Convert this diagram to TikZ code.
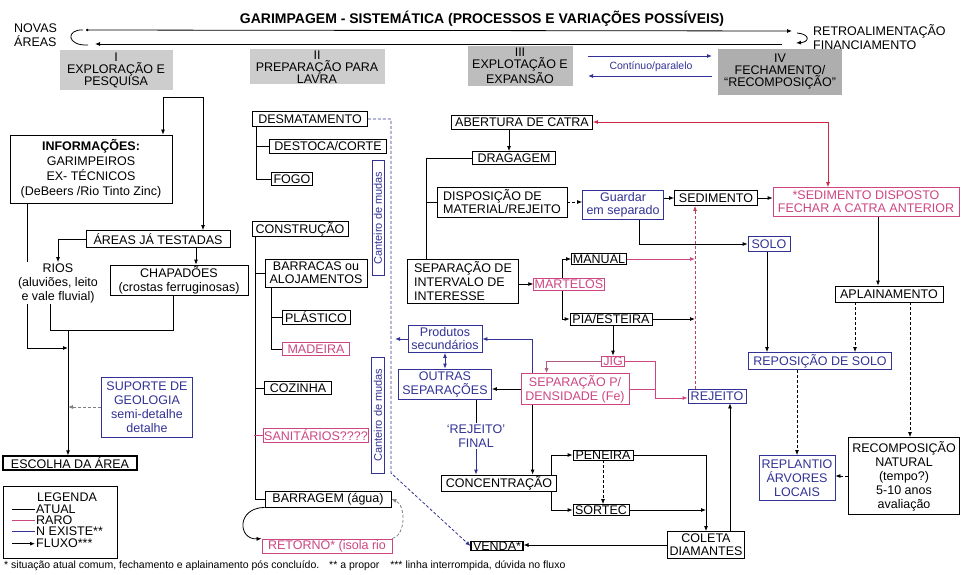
\documentclass[tikz,border=0pt]{standalone}
\usepackage{fontspec}
\setmainfont{Liberation Sans}
\usepackage{tikz}
\usetikzlibrary{arrows.meta, positioning, calc, backgrounds}
\definecolor{azul}{RGB}{50,50,150}
\definecolor{rosa}{RGB}{205,70,130}
\definecolor{vermelho}{RGB}{210,40,70}
\definecolor{cinzafase}{RGB}{205,205,205}
\tikzstyle{box} = [draw=black, fill=white, line width=0.8pt, inner xsep=1pt, inner ysep=0.5pt, align=center, font=\fontsize{12.5}{14}\selectfont]
\tikzstyle{raro} = [box, draw=rosa, text=rosa]
\tikzstyle{nexiste} = [box, draw=azul, text=azul]
\tikzstyle{fase} = [fill=cinzafase, inner sep=1pt, align=center, font=\fontsize{12.5}{12}\selectfont]
\tikzstyle{texto} = [inner sep=1pt, align=center, font=\fontsize{12.5}{14}\selectfont]
\tikzstyle{line} = [line width=0.8pt]
\tikzstyle{arrow} = [line, ->]
\tikzstyle{tracejado} = [line, dash pattern=on 3pt off 2pt]

\begin{document}
\begin{tikzpicture}[x=1pt, y=-1pt, >={Latex[length=5pt,width=4pt]}]
\useasboundingbox (0,0) rectangle (961,575);

\node[font=\bfseries\fontsize{14}{15}\selectfont] (titulo) at (482,19) {GARIMPAGEM - SISTEMÁTICA (PROCESSOS E VARIAÇÕES POSSÍVEIS)};
\node[texto, align=left, anchor=west] (novas) at (13,35) {NOVAS\\ÁREAS};
\node[texto, align=left, anchor=west] (retro) at (812,37) {RETROALIMENTAÇÃO\\FINANCIAMENTO};

\node[fase, minimum width=113, minimum height=40] (fase-1) at (116,70) {I\\EXPLORAÇÃO E\\PESQUISA};
\node[fase, minimum width=135, minimum height=35] (fase-2) at (317,67) {II\\PREPARAÇÃO PARA\\LAVRA};
\node[fase, minimum width=105, minimum height=40, fill=cinzafase!92!black] (fase-3) at (520,66) {III\\EXPLOTAÇÃO E\\EXPANSÃO};
\node[fase, minimum width=124, minimum height=46, fill=cinzafase!85!black] (fase-4) at (780,72) {IV\\FECHAMENTO/\\``RECOMPOSIÇÃO''};
\node[texto, text=azul, font=\fontsize{10.5}{12}\selectfont] (continuo) at (651,67) {Contínuo/paralelo};

\node[box, minimum width=162, minimum height=68, font=\fontsize{12.5}{15}\selectfont] (info) at (91,169) {\textbf{INFORMAÇÕES:}\\GARIMPEIROS\\EX- TÉCNICOS\\(DeBeers /Rio Tinto Zinc)};
\node[box, minimum width=144, minimum height=17] (areas) at (158,239) {ÁREAS JÁ TESTADAS};
\node[texto, fill=white] (rios) at (58,283) {RIOS\\(aluviões, leito\\e vale fluvial)};
\node[box, minimum width=138, minimum height=30] (chapadoes) at (179,280) {CHAPADÕES\\(crostas ferruginosas)};
\node[nexiste, minimum width=91, minimum height=60] (suporte) at (147,407) {SUPORTE DE\\GEOLOGIA\\semi-detalhe\\detalhe};
\node[box, minimum width=134, minimum height=14, line width=1.3pt] (escolha) at (70,463) {ESCOLHA DA ÁREA};
\node[box, minimum width=114, minimum height=72] (legenda) at (60,522) {};
\node[texto] (leg-titulo) at (67,497) {LEGENDA};
\node[texto, anchor=west] (leg-atual) at (35,509) {ATUAL};
\node[texto, below=0pt of leg-atual.south west, anchor=north west] (leg-raro) {RARO};
\node[texto, below=0pt of leg-raro.south west, anchor=north west] (leg-nex) {N EXISTE**};
\node[texto, below=1pt of leg-nex.south west, anchor=north west] (leg-fluxo) {FLUXO***};
\draw[line] ($(leg-atual.west)+(-23,0)$) -- (leg-atual.west);
\draw[line, rosa] ($(leg-raro.west)+(-23,0)$) -- (leg-raro.west);
\draw[line, azul] ($(leg-nex.west)+(-23,0)$) -- (leg-nex.west);
\draw[arrow] ($(leg-fluxo.west)+(-23,0)$) -- (leg-fluxo.west);
\node[anchor=west, inner sep=0pt, font=\fontsize{10.5}{12}\selectfont] (nota) at (4,566) {* situação atual comum, fechamento e aplainamento pós concluído.\hspace{6pt} ** a propor\hspace{8pt} *** linha interrompida, dúvida no fluxo};

\node[box, minimum width=115, minimum height=15] (desmat) at (310,119) {DESMATAMENTO};
\node[box, minimum width=117, minimum height=14] (destoca) at (328,146) {DESTOCA/CORTE};
\node[box, minimum width=41, minimum height=13] (fogo) at (292,179) {FOGO};
\node[box, minimum width=96, minimum height=15] (construcao) at (300,229) {CONSTRUÇÃO};
\node[box, minimum width=102, minimum height=28, font=\fontsize{12.5}{13}\selectfont] (barracas) at (316,273) {BARRACAS ou\\ALOJAMENTOS};
\node[box, minimum width=68, minimum height=14] (plastico) at (316,317) {PLÁSTICO};
\node[raro, minimum width=67, minimum height=13] (madeira) at (316,349) {MADEIRA};
\node[box, minimum width=67, minimum height=13] (cozinha) at (298,388) {COZINHA};
\node[raro, minimum width=103, minimum height=14] (sanitarios) at (316,435) {SANITÁRIOS????};
\node[box, minimum width=126, minimum height=16] (barragem) at (328,499) {BARRAGEM (água)};
\node[raro, minimum width=130, minimum height=14] (retorno) at (327,546) {RETORNO* (isola rio};
\node[nexiste, rotate=90, minimum width=115, minimum height=12, font=\fontsize{11}{12}\selectfont] (canteiro-1) at (378,218) {Canteiro de mudas};
\node[nexiste, rotate=90, minimum width=116, minimum height=13, font=\fontsize{11}{12}\selectfont] (canteiro-2) at (378,415) {Canteiro de mudas};

\node[box, minimum width=141, minimum height=14] (abertura) at (522,122) {ABERTURA DE CATRA};
\node[box, minimum width=83, minimum height=13] (dragagem) at (514,158) {DRAGAGEM};
\node[box, minimum width=130, minimum height=30, align=left, font=\fontsize{12.5}{13}\selectfont] (disposicao) at (502,202) {DISPOSIÇÃO DE\\MATERIAL/REJEITO};
\node[nexiste, minimum width=81, minimum height=29, font=\fontsize{12.5}{13}\selectfont] (guardar) at (623,205) {Guardar\\em separado};
\node[box, minimum width=83, minimum height=15] (sedimento) at (716,198) {SEDIMENTO};
\node[raro, minimum width=186, minimum height=29, font=\fontsize{12.5}{13}\selectfont] (sed-disposto) at (866,202) {*SEDIMENTO DISPOSTO\\FECHAR A CATRA ANTERIOR};
\node[nexiste, minimum width=42, minimum height=15] (solo) at (769,244) {SOLO};
\node[box, minimum width=108, minimum height=16] (aplainamento) at (889,294) {APLAINAMENTO};
\node[box, minimum width=111, minimum height=44, align=left] (separacao) at (463,281) {SEPARAÇÃO DE\\INTERVALO DE\\INTERESSE};
\node[box, minimum width=55, minimum height=11] (manual) at (599,259) {MANUAL};
\node[raro, minimum width=70, minimum height=12] (martelos) at (569,284) {MARTELOS};
\node[box, minimum width=82, minimum height=12] (pia) at (611,319) {PIA/ESTEIRA};
\node[raro, minimum width=23, minimum height=10] (jig) at (613,361) {JIG};
\node[raro, minimum width=108, minimum height=31, font=\fontsize{12.5}{14}\selectfont] (sep-dens) at (575,389) {SEPARAÇÃO P/\\DENSIDADE (Fe)};
\node[nexiste, minimum width=74, minimum height=27, font=\fontsize{12.5}{13}\selectfont] (produtos) at (445,339) {Produtos\\secundários};
\node[nexiste, minimum width=93, minimum height=30] (outras) at (445,384) {OUTRAS\\SEPARAÇÕES};
\node[texto, text=azul, fill=white] (rejeito-final) at (476,436) {`REJEITO'\\FINAL};
\node[box, minimum width=115, minimum height=16] (concentracao) at (499,483) {CONCENTRAÇÃO};
\node[box, minimum width=60, minimum height=10] (peneira) at (603,455) {PENEIRA};
\node[box, minimum width=56, minimum height=11] (sortec) at (601,510) {SORTEC};
\node[box, minimum width=77, minimum height=27, font=\fontsize{12.5}{13}\selectfont] (coleta) at (706,545) {COLETA\\DIAMANTES};
\node[box, minimum width=52, minimum height=9, line width=1.1pt] (venda) at (497,546) {VENDA*};
\node[nexiste, minimum width=58, minimum height=14] (rejeito) at (717,396) {REJEITO};

\node[nexiste, minimum width=143, minimum height=17] (reposicao) at (820,361) {REPOSIÇÃO DE SOLO};
\node[nexiste, minimum width=76, minimum height=45] (replantio) at (797,478) {REPLANTIO\\ÁRVORES\\LOCAIS};
\node[box, minimum width=111, minimum height=77] (recomposicao) at (904,476) {RECOMPOSIÇÃO\\NATURAL\\(tempo?)\\5-10 anos\\avaliação};

\begin{scope}[on background layer]
\coordinate (ciclo-e1) at (86,30);
\coordinate (ciclo-d1) at (792,31);
\coordinate (ciclo-d2) at (782,44);
\coordinate (ciclo-e2) at (95,44);
\coordinate (curva-e1) at (83,30);
\coordinate (curva-e2) at (88,45);
\coordinate (curva-d1) at (797,33);
\coordinate (curva-d2) at (796,43);
\draw[line, {Circle[length=2.5pt]}->] (ciclo-e1) -- (ciclo-d1);
\draw[arrow] (ciclo-d2) -- (ciclo-e2);
\draw[line] (curva-e2) .. controls (66,46) and (66,29) .. (curva-e1);
\draw[arrow] (curva-d1) .. controls (810,34) and (810,42) .. (curva-d2);

\coordinate (cont-e1) at (588,56);
\coordinate (cont-d1) at (712,56);
\coordinate (cont-d2) at (712,76);
\coordinate (cont-e2) at (588,76);
\draw[arrow, azul] (cont-e1) -- (cont-d1);
\draw[arrow, azul] (cont-d2) -- (cont-e2);

\coordinate (chave-e) at (163,97);
\coordinate (chave-d) at (203,97);
\draw[line] (chave-e) -- (chave-d);
\draw[arrow] (chave-e) -- (chave-e |- info.north);
\draw[arrow] (chave-d) -- (chave-d |- areas.north);
\draw[arrow] (areas.west) -| (rios.north);
\draw[arrow] ($(areas.south)+(38,0)$) -- ($(chapadoes.north)+(17,0)$);
\coordinate (juncao) at (68,330);
\coordinate (rios-base) at (50,330);
\coordinate (chap-base) at (173,330);
\coordinate (info-base) at (27,348);
\draw[line] (rios-base |- rios.south) -- (rios-base) -- (chap-base) -- (chap-base |- chapadoes.south);
\draw[arrow] (juncao) -- (juncao |- escolha.north);
\draw[arrow] (info-base |- info.south) -- (info-base) -- (info-base -| juncao);
\draw[tracejado, gray, ->] (suporte.west) -- (suporte.west -| juncao);

\draw[line] ($(desmat.south west)+(4,0)$) |- (fogo.west);
\draw[line] (destoca.west) -- ++(-13,0);
\draw[line] ($(construcao.south west)+(4,0)$) |- (barragem.west);
\draw[line] (barracas.west) -- ++(-9,0);
\draw[line] (cozinha.west) -- ++(-9,0);
\draw[line, rosa] (sanitarios.west) -- ++(-9,0);
\draw[line] ($(barracas.south west)+(7,0)$) |- (madeira.west);
\draw[line] (plastico.west) -- ++(-10,0);
\coordinate (canteiro-topo) at (391,119);
\coordinate (canteiro-base) at (391,473);
\draw[tracejado, azul, ->] (desmat.east) -- (canteiro-topo) -- (canteiro-base) -- (venda.west);
\draw[arrow] (barragem.south west) .. controls (236,508) and (238,540) .. (retorno.north west);
\draw[tracejado, gray, ->] (retorno.north east) .. controls (406,535) and (406,505) .. (barragem.east);

\coordinate (linha-rejeito) at (695,300);
\draw[line, vermelho, <->] (abertura.east) -| ($(sed-disposto.north)+(-38,0)$);
\draw[arrow] ($(abertura.south)+(-13,0)$) -- ($(dragagem.north)+(-5,0)$);
\draw[line] (dragagem.west) -| ($(separacao.north west)+(19,0)$);
\draw[line] (disposicao.west) -- ++(-10,0);
\draw[tracejado, ->] (disposicao.east) -- (disposicao.east -| guardar.west);
\draw[arrow] (guardar.east |- sedimento) -- (sedimento.west);
\draw[arrow] (sedimento.east) -- (sedimento.east -| sed-disposto.west);
\draw[arrow] ($(guardar.south)+(16,0)$) |- (solo.west);
\draw[arrow] ($(sed-disposto.south)+(12,0)$) -- ($(aplainamento.north)+(-11,0)$);
\draw[arrow] ($(solo.south)+(-2,0)$) -- ($(solo.south |- reposicao.north)+(-2,0)$);
\draw[tracejado, ->] ($(aplainamento.south)+(-34,0)$) -- ($(reposicao.north)+(35,0)$);
\draw[tracejado, ->] ($(aplainamento.south)+(21,0)$) -- ($(recomposicao.north)+(6,0)$);
\draw[tracejado, ->] (reposicao.south -| replantio) -- (replantio.north);
\draw[tracejado, ->] (recomposicao.west) -- (recomposicao.west -| replantio.east);

\draw[tracejado, vermelho!70!gray, ->] (rejeito.north -| linha-rejeito) -- (sedimento.south -| linha-rejeito);
\draw[arrow, rosa] (manual.east) -- (manual.east -| linha-rejeito);
\draw[arrow] (pia.east) -- (pia.east -| linha-rejeito);
\draw[arrow] (separacao.east |- martelos) -- (martelos.west);
\draw[arrow] ($(martelos.north)+(-7,0)$) |- (manual.west);
\draw[arrow] ($(martelos.south)+(-7,0)$) |- (pia.west);
\draw[arrow] (pia.south -| jig) -- (jig.north);
\coordinate (jig-canto) at (655,398);
\draw[arrow, rosa!60!gray] (jig.west) -| ($(sep-dens.north west)+(26,0)$);
\draw[arrow, rosa] (jig.east) -| (jig-canto) -- (jig-canto -| rejeito.west);
\draw[line, rosa] (sep-dens.east) -- (sep-dens.east -| jig-canto);
\draw[arrow] (sep-dens.west) -- (sep-dens.west -| outras.east);
\draw[arrow, azul] ($(sep-dens.north west)+(12,0)$) |- (produtos.east);
\draw[arrow] ($(sep-dens.south west)+(12,0)$) -- ($(sep-dens.south west |- concentracao.north)+(12,0)$);
\draw[arrow, azul] (produtos.west) -- ($(produtos.west -| canteiro-topo)+(4,0)$);
\draw[line, azul, <->] (produtos.south) -- (outras.north);
\draw[line] ($(outras.south)+(31,0)$) -- (rejeito-final.north);
\draw[arrow, azul] (rejeito-final.south) -- (rejeito-final.south |- concentracao.north);
\draw[arrow] ($(concentracao.north east)+(-6,0)$) |- (peneira.west);
\draw[arrow] ($(concentracao.south east)+(-6,0)$) |- (sortec.west);
\draw[tracejado, ->] (peneira.south) -- (peneira.south |- sortec.north);
\draw[arrow] (peneira.east) -| (coleta.north);
\draw[arrow] (sortec.east) -- (sortec.east -| coleta.north);
\draw[arrow] (coleta.west) -- (coleta.west -| venda.east);
\draw[arrow] ($(coleta.north)+(24,0)$) -- ($(coleta.north |- rejeito.south)+(24,0)$);
\end{scope}
\end{tikzpicture}
\end{document}
